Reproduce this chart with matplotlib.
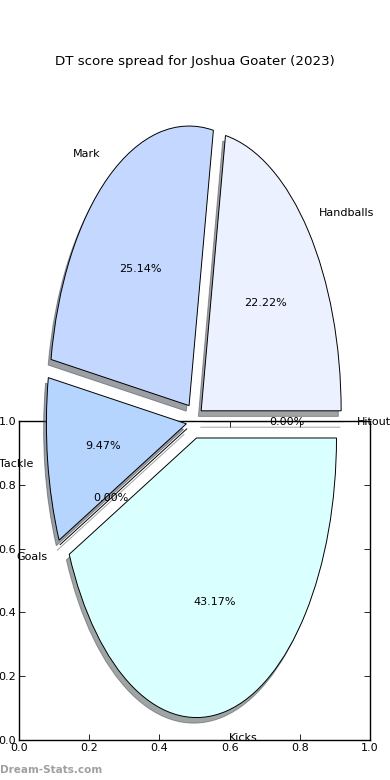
import matplotlib
matplotlib.use("Agg")
import matplotlib.pyplot as plt

labels = ["Hitout", "Handballs", "Mark", "Tackle", "Goals", "Kicks"]
values = [0.00, 22.22, 25.14, 9.47, 0.00, 43.17]
colors = ["#e0f0ff", "#ebf1ff", "#c4d8ff", "#b5d5ff", "#d0e8ff", "#d9ffff"]
explode = [0.06, 0.06, 0.07, 0.06, 0.06, 0.06]
ticks = [0.0, 0.2, 0.4, 0.6, 0.8, 1.0]
title = "DT score spread for Joshua Goater (2023)"

plt.rcParams["font.family"] = ["DejaVu Sans"]
plt.rcParams["font.size"] = 8

fig = plt.figure(figsize=(3.9, 7.8), dpi=100)

# background box axes (empty)
box = fig.add_axes([19 / 390, 40 / 780, 351 / 390, 319 / 780])
box.set_xlim(0, 1)
box.set_ylim(0, 1)
box.set_xticks(ticks)
box.set_yticks(ticks)
box.set_xticklabels([f"{t:.1f}" for t in ticks])
box.set_yticklabels([f"{t:.1f}" for t in ticks])
box.tick_params(direction="in", top=True, right=True, length=4, width=0.6,
                labelsize=8, pad=2)
for s in box.spines.values():
    s.set_linewidth(1.0)

# pie axes covering full figure, non-equal aspect
pax = fig.add_axes([0, 0, 1, 1])
pax.patch.set_visible(False)
pax.pie(values, labels=labels, colors=colors, explode=explode,
        autopct="%1.2f%%", shadow={"ox": -0.0144, "oy": -0.0144},
        startangle=0,
        wedgeprops=dict(edgecolor="black", linewidth=0.7),
        textprops=dict(fontsize=8))
pax.set_aspect("auto")
pax.set_xlim(-1.391, 1.395)
pax.set_ylim(-1.282, 1.508)
pax.axis("off")

fig.text(0.5, 1 - 61 / 780, title, ha="center", va="center", fontsize=9.6)
fig.text(0.0, 1 - 770 / 780, "Dream-Stats.com", ha="left", va="center",
         fontsize=7.5, fontweight="bold", color="#a0a0a0")

fig.savefig("out.png", dpi=100)
